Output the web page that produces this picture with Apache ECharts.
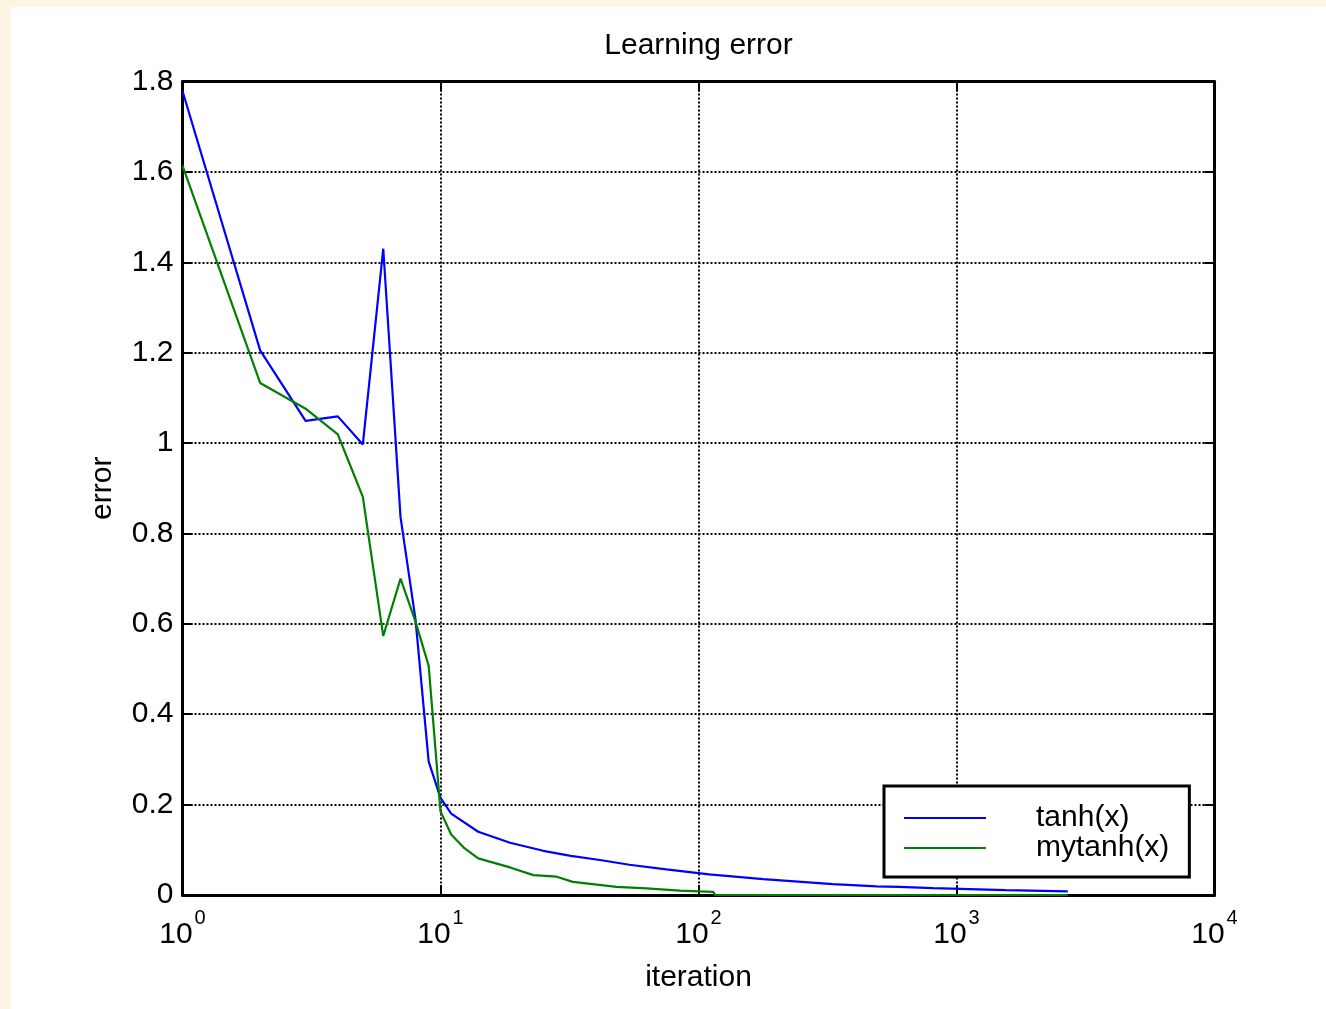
<!DOCTYPE html>
<html><head><meta charset="utf-8">
<script src="https://cdn.jsdelivr.net/npm/echarts@6/dist/echarts.min.js"></script>
<style>
html,body{margin:0;padding:0;background:#fcf5e3;width:1326px;height:1009px;overflow:hidden;}
#chart{position:absolute;left:11px;top:7px;width:1315px;height:1002px;background:#fff;}
</style></head><body><div id="chart"></div>
<script>
const chartTitle = 'Learning error';
const xName = 'iteration';
const yName = 'error';
const seriesNames = ['tanh(x)', 'mytanh(x)'];
const seriesColors = ['#0000ff', '#008000'];

const tanhIter = [1, 2, 3, 4, 5, 6, 7, 8, 9, 10, 11, 14, 18.6, 20.4, 25, 32, 41.5, 54, 75, 110, 178, 332, 490, 600, 810, 1550, 2700];
const tanhErr  = [1.779, 1.205, 1.049, 1.059, 0.997, 1.430, 0.836, 0.61, 0.295, 0.215, 0.18, 0.14, 0.1155, 0.11, 0.0978, 0.0867, 0.0774, 0.067, 0.0566, 0.0455, 0.035, 0.024, 0.019, 0.018, 0.015, 0.011, 0.008];

const mytanhIter = [1, 2, 3, 4, 5, 6, 7, 8, 9, 10, 11, 12.3, 14, 18.6, 22.9, 28.2, 32.6, 48.1, 62.9, 84.6, 114, 116, 2700];
const mytanhErr  = [1.614, 1.133, 1.076, 1.019, 0.881, 0.573, 0.70, 0.605, 0.507, 0.185, 0.134, 0.105, 0.081, 0.061, 0.044, 0.0405, 0.029, 0.018, 0.0148, 0.0095, 0.007, 0, 0];

const xTickExponents = ['0', '1', '2', '3', '4'];
const yTickLabels = ['0', '0.2', '0.4', '0.6', '0.8', '1', '1.2', '1.4', '1.6', '1.8'];

const FONT = "'Liberation Sans', Arial, Helvetica, sans-serif";
const FS = 30;

const chart = echarts.init(document.getElementById('chart'));
const zip = (xs, ys) => xs.map((x, i) => [x, ys[i]]);

const tickStyle = { show: true, inside: true, length: 10, lineStyle: { color: '#000', width: 2 } };
const frameLine = { show: true, onZero: false, lineStyle: { color: '#000', width: 3 } };
const gridDots = { show: true, lineStyle: { color: '#000', width: 2, type: [2, 2] } };

chart.setOption({
  animation: false,
  backgroundColor: '#fff',
  textStyle: { fontFamily: FONT, color: '#000' },
  title: {
    text: chartTitle, left: 687.5, top: 24, textAlign: 'center', padding: 0,
    textStyle: { fontFamily: FONT, fontSize: FS, fontWeight: 'normal', color: '#000' }
  },
  grid: { left: 171.5, top: 74.5, width: 1032, height: 813.5, containLabel: false },
  xAxis: [{
    type: 'log', logBase: 10, min: 1, max: 10000, position: 'bottom',
    name: xName, nameLocation: 'middle', nameGap: 68,
    nameTextStyle: { fontFamily: FONT, fontSize: FS, color: '#000' },
    axisLine: frameLine, axisTick: tickStyle, splitLine: gridDots,
    minorTick: { show: false }, minorSplitLine: { show: false },
    axisLabel: {
      margin: 25, color: '#000',
      formatter: v => '{b|10}{s|' + xTickExponents[Math.round(Math.log10(v))] + '}',
      rich: {
        b: { fontFamily: FONT, fontSize: FS, color: '#000', verticalAlign: 'bottom', lineHeight: 30 },
        s: { fontFamily: FONT, fontSize: 20, color: '#000', verticalAlign: 'bottom', lineHeight: 20, padding: [0, 0, 22, 2] }
      }
    }
  }, {
    type: 'log', logBase: 10, min: 1, max: 10000, position: 'top',
    axisLine: frameLine, axisTick: tickStyle, splitLine: { show: false },
    axisLabel: { show: false }
  }],
  yAxis: [{
    type: 'value', min: 0, max: 1.8, interval: 0.2, position: 'left',
    name: yName, nameLocation: 'middle', nameGap: 65, nameRotate: 90,
    nameTextStyle: { fontFamily: FONT, fontSize: FS, color: '#000' },
    axisLine: frameLine, axisTick: tickStyle, splitLine: gridDots,
    axisLabel: {
      margin: 9, fontFamily: FONT, fontSize: FS, color: '#000',
      formatter: v => yTickLabels[Math.round(v / 0.2)]
    }
  }, {
    type: 'value', min: 0, max: 1.8, interval: 0.2, position: 'right',
    axisLine: frameLine, axisTick: tickStyle, splitLine: { show: false },
    axisLabel: { show: false }
  }],
  legend: {
    orient: 'vertical', left: 873, top: 779,
    backgroundColor: '#fff', borderColor: '#000', borderWidth: 3, borderRadius: 0,
    padding: [17, 20, 14, 20],
    itemWidth: 82, itemHeight: 2, itemGap: 0, icon: 'rect',
    textStyle: { fontFamily: FONT, fontSize: FS, color: '#000', lineHeight: 29, padding: [0, 0, 0, 45] },
    data: seriesNames
  },
  series: [{
    name: seriesNames[0], type: 'line', data: zip(tanhIter, tanhErr),
    showSymbol: false, color: seriesColors[0], lineStyle: { width: 2.2, color: seriesColors[0] }
  }, {
    name: seriesNames[1], type: 'line', data: zip(mytanhIter, mytanhErr),
    showSymbol: false, color: seriesColors[1], lineStyle: { width: 2.2, color: seriesColors[1] }
  }]
});
</script></body></html>
